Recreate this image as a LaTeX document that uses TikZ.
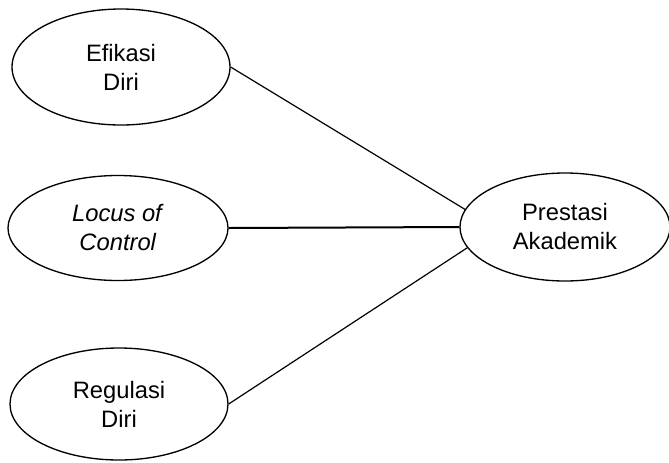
\documentclass[tikz,border=0pt]{standalone}
\usepackage{fontspec}
\setmainfont{Liberation Sans}
\usetikzlibrary{shapes.geometric}
\tikzstyle{var} = [ellipse, draw, line width=1pt, inner sep=0pt,
    align=center, font=\fontsize{17.8}{21.75}\selectfont]

\begin{document}
\begin{tikzpicture}[
x = 0.75pt, y = -0.75pt,
link/.style = {draw, line width=0.9pt}
                    ]
\useasboundingbox (0,0) rectangle (669,462);
% variabel X
\node [var, minimum width=163.5pt, minimum height=87pt] (efikasi) at (121,67) {Efikasi\\Diri};
\node [var, minimum width=165pt, minimum height=78.75pt] (locus) at (118,228) {\textit{Locus of}\\\textit{Control}};
\node [var, minimum width=163.5pt, minimum height=84pt] (regulasi) at (119,404) {Regulasi\\Diri};
% variabel Y
\node [var, minimum width=157.5pt, minimum height=81pt] (prestasi) at (565,227) {Prestasi\\Akademik};
% hubungan
\draw [link] (efikasi.east) -- (prestasi.170);
\draw [link, line width=1.5pt] (locus.east) -- (prestasi.west);
\draw [link] (regulasi.east) -- (prestasi.192);
\end{tikzpicture}
\end{document}
